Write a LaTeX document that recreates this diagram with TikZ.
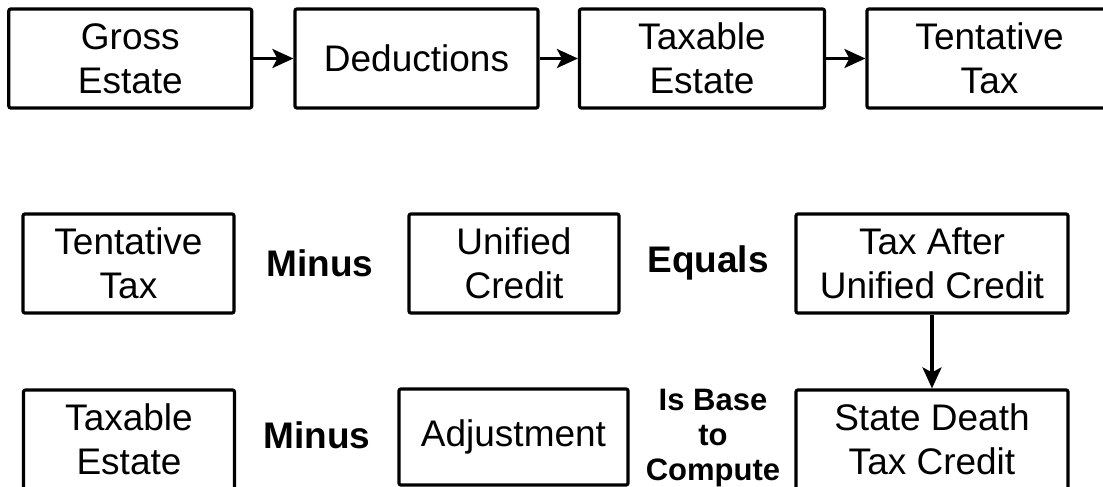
\documentclass[tikz,border=0pt]{standalone}
\usepackage{fontspec}
\setmainfont{Liberation Sans}
\usetikzlibrary{arrows.meta}
\tikzset{
  boxnode/.style={draw, line width=3.2pt, rounded corners=2pt, align=center, inner sep=0pt,
    font=\fontsize{37}{44}\selectfont},
  opnode/.style={font=\fontsize{37}{44}\selectfont\bfseries, inner sep=0pt},
  smallop/.style={font=\fontsize{31}{35}\selectfont\bfseries, align=center, inner sep=0pt},
  flow/.style={line width=3.2pt, -{Stealth[length=21pt,width=19pt,inset=5pt]}}
}
\begin{document}
\begin{tikzpicture}[x=1pt,y=-1pt]
\useasboundingbox (0,0) rectangle (1103,487);
% top row
\node[boxnode, minimum width=243pt, minimum height=99pt] (gross) at (130.3,58.5) {Gross\\Estate};
\node[boxnode, minimum width=243pt, minimum height=99pt] (ded) at (416.5,58.5) {Deductions};
\node[boxnode, minimum width=245pt, minimum height=99pt] (taxest) at (702,58.5) {Taxable\\Estate};
\node[boxnode, minimum width=245pt, minimum height=99pt] (tent) at (989.5,58.5) {Tentative\\Tax};
\draw[flow] (gross) -- (ded);
\draw[flow] (ded) -- (taxest);
\draw[flow] (taxest) -- (tent);
% middle row
\node[boxnode, minimum width=211pt, minimum height=99pt] (tent2) at (128.5,263.5) {Tentative\\Tax};
\node[opnode] (minus1) at (320,263) {Minus};
\node[boxnode, minimum width=210pt, minimum height=99pt] (unified) at (514,263.5) {Unified\\Credit};
\node[opnode] (equals) at (708,263) {Equals};
\node[boxnode, minimum width=272pt, minimum height=99pt] (after) at (932,263.5) {Tax After\\Unified Credit};
% bottom row
\node[boxnode, minimum width=211pt, minimum height=99pt] (taxest2) at (129,439.5) {Taxable\\Estate};
\node[opnode] (minus2) at (317,435) {Minus};
\node[boxnode, minimum width=229pt, minimum height=96pt] (adj) at (513.5,437) {Adjustment};
\node[smallop] (base) at (713,438) {Is Base\\to\\Compute};
\node[boxnode, minimum width=272pt, minimum height=99pt] (state) at (932,439.5) {State Death\\Tax Credit};
\draw[flow] (after) -- (state);
\end{tikzpicture}
\end{document}
